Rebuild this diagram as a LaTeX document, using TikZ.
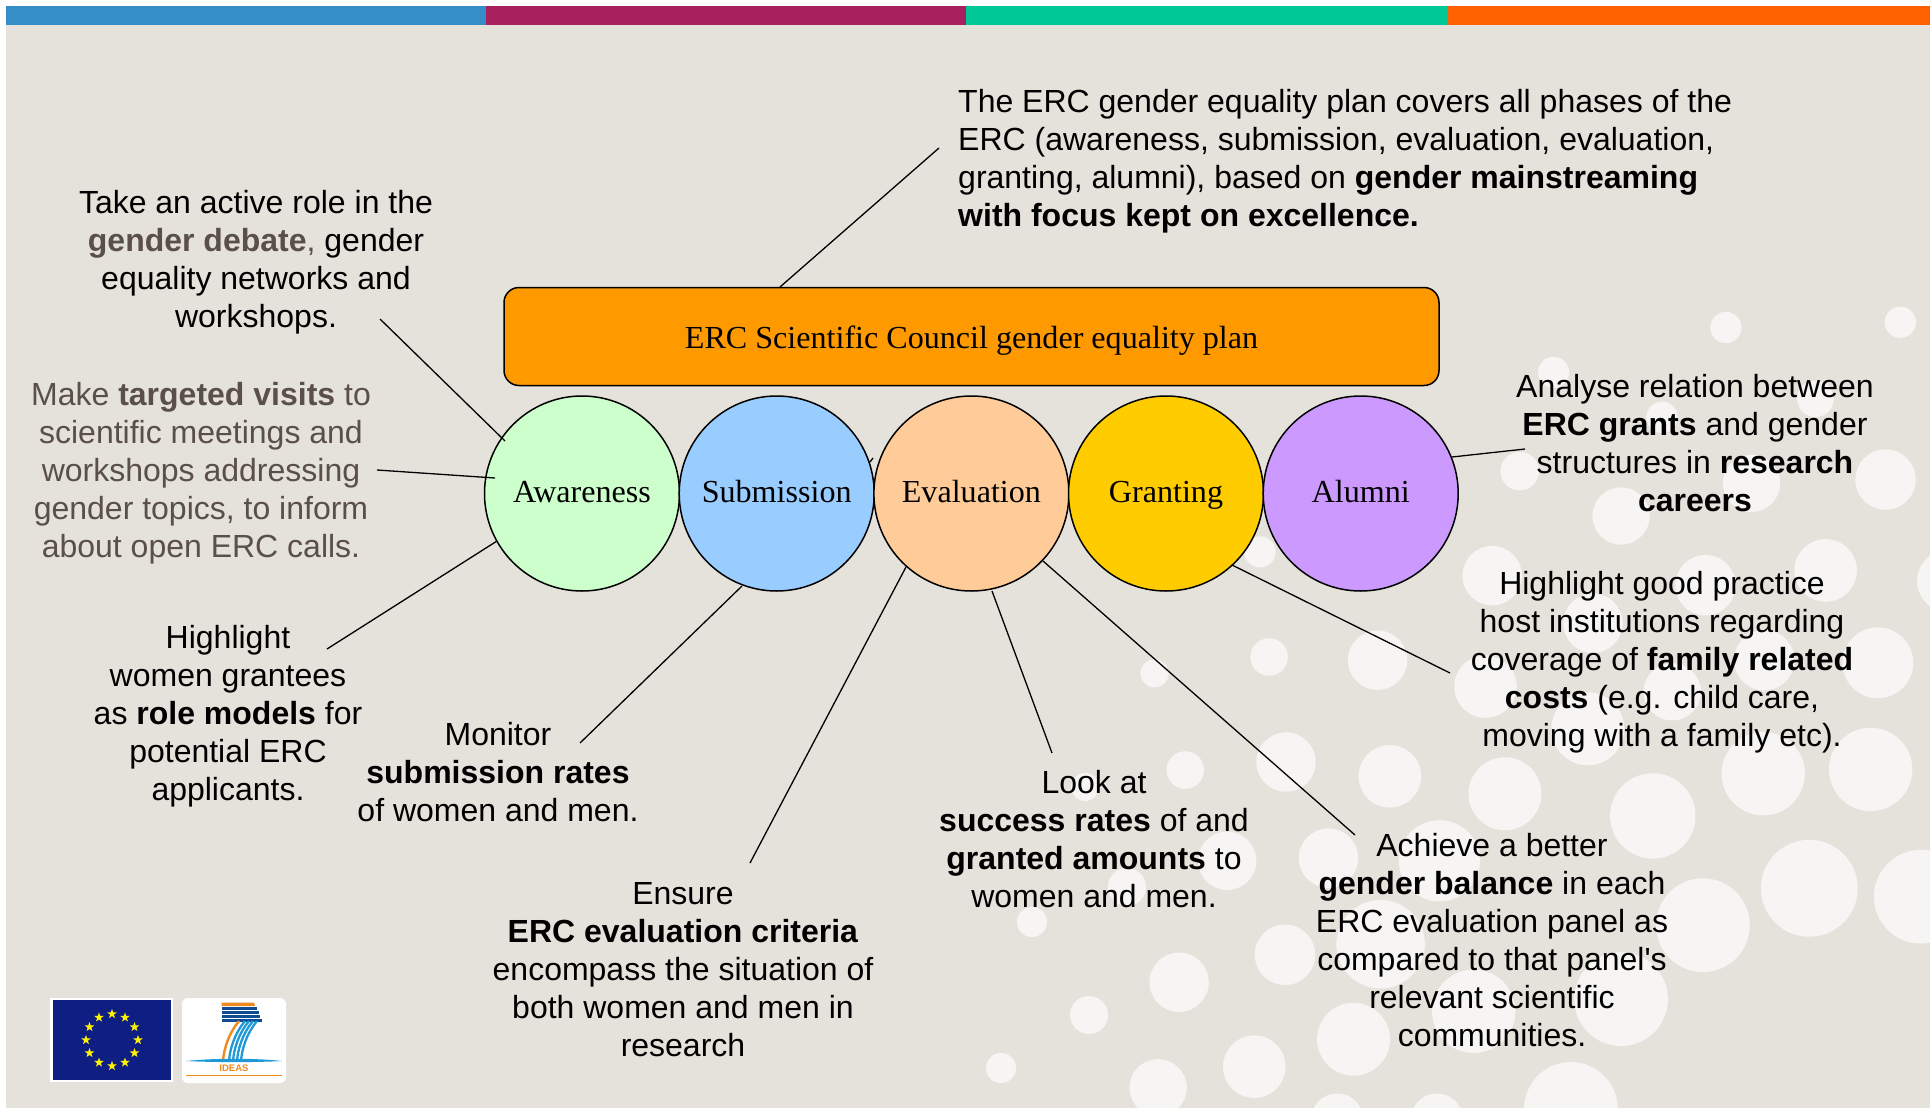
\documentclass[tikz,border=0pt]{standalone}
\usepackage{fontspec}
\setmainfont{Liberation Sans}
\newfontfamily\tnr{Liberation Serif}
\newfontfamily\plainsans{Liberation Sans}
\usetikzlibrary{shapes.geometric,calc}
\definecolor{bgc}{HTML}{E5E2DB}
\definecolor{bub}{HTML}{F7F5F4}
\definecolor{greytxt}{HTML}{5A5048}
\definecolor{barblue}{HTML}{368EC9}
\definecolor{barmag}{HTML}{A8205E}
\definecolor{bargreen}{HTML}{00C896}
\definecolor{barorange}{HTML}{FF6000}
\definecolor{boxorange}{HTML}{FF9900}
\definecolor{cgreen}{HTML}{CCFFCC}
\definecolor{cblue}{HTML}{99CCFF}
\definecolor{cpeach}{HTML}{FFCC99}
\definecolor{cyellow}{HTML}{FFCC00}
\definecolor{cpurple}{HTML}{CC99FF}
\definecolor{eublue}{HTML}{0F1E82}
\definecolor{fpblue}{HTML}{1F9AD6}
\definecolor{fpnavy}{HTML}{0F4C96}
\definecolor{fporange}{HTML}{F08A1E}
\tikzset{
  stage/.style={circle,draw=black,line width=1.5pt,minimum size=195pt,inner sep=0pt,text height=23pt,text depth=5.5pt,font=\tnr\fontsize{32.1}{38}\selectfont},
  lead/.style={draw=black,line width=1.3pt},
  note/.style={align=center,inner sep=0pt,font=\fontsize{32}{38}\selectfont,text=black},
}
\begin{document}
\begin{tikzpicture}[x=1pt,y=-1pt]
\useasboundingbox (0,0) rectangle (1930,1108);
\fill[bgc] (6,6) rectangle (1930,1108);
% bubbles
\begin{scope}
\clip (6,25) rectangle (1930,1108);
\foreach \x/\y/\r in {1165/90/30,1506/80/30,828/175/30,1040/260/30,1340/225/35,762/362/37,1477/378/58,1215/385/55,960/447/55,254/515/30,708/560/57,1360/550/60,1125/578/58,1600/570/60,905/650/57,1240/720/58,1462/725/68,272/714/36,484/720/57,48/745/27,695/770/60,1060/780/55,895/850/70,1448/927/80,1238/935/80,305/913/57,508/940/60,733/973/70,108/928/36,1022/1015/82,1328/1152/93,388/1095/57,190/1100/56,1546/1168/90,1120/1222/90,605/1100/78,490/1258/85,303/1278/58,96/1330/57,960/1362/90,672/1385/80,437/1438/70,243/1490/60,55/1530/55,862/1570/90,405/1590/50,600/1590/50}
  \fill[bub] ({1130+\x/1.955},{280+\y/1.894}) circle ({\r/1.92});
\foreach \x/\y/\r in {1032/922/15,1089/1015/19,1001/1068/15,1127/887/19,1085/787/14}
  \fill[bub] (\x,\y) circle (\r);
\end{scope}
% top bar
\fill[barblue] (6,6) rectangle (486,25);
\fill[barmag] (486,6) rectangle (966,25);
\fill[bargreen] (966,6) rectangle (1447,25);
\fill[barorange] (1447,6) rectangle (1930,25);
% main shapes
\node[draw=black,line width=1.5pt,fill=boxorange,rounded corners=15pt,minimum width=935pt,minimum height=98pt,inner sep=0pt,text height=26pt,text depth=2pt,font=\tnr\fontsize{32.1}{38}\selectfont] (plan) at (971.5,336.5) {ERC Scientific Council gender equality plan};
\node[stage,fill=cgreen] (aw) at (582,493.5) {Awareness};
\node[stage,fill=cblue] (su) at (776.7,493.5) {Submission};
\node[stage,fill=cpeach] (ev) at (971.4,493.5) {Evaluation};
\node[stage,fill=cyellow] (gr) at (1166,493.5) {Granting};
\node[stage,fill=cpurple] (al) at (1360.7,493.5) {Alumni};
% notes
\node[note,align=left,anchor=west] (t0) at (958,161.5) {The ERC gender equality plan covers all phases of the\\ERC (awareness, submission, evaluation, evaluation,\\granting, alumni), based on \textbf{gender mainstreaming}\\\textbf{with focus kept on excellence.}};
\node[note] (t1) at (256,262) {Take an active role in the\\\textcolor{greytxt}{\textbf{gender debate},} gender\\equality networks and\\workshops.};
\node[note,text=greytxt] (t2) at (201,473.5) {Make \textbf{targeted visits} to\\scientific meetings and\\workshops addressing\\gender topics, to inform\\about open ERC calls.};
\node[note] (t3) at (228,716) {Highlight\\women grantees\\as \textbf{role models} for\\potential ERC\\applicants.};
\node[note] (t4) at (498,772) {Monitor\\\textbf{submission rates}\\of women and men.};
\node[note] (t5) at (683,969.5) {Ensure\\\textbf{ERC evaluation criteria}\\encompass the situation of\\both women and men in\\research};
\node[note] (t6) at (1094,839) {Look at\\\textbf{success rates} of and\\\textbf{granted amounts} to\\women and men.};
\node[note] (t7) at (1492,940) {Achieve a better\\\textbf{gender balance} in each\\ERC evaluation panel as\\compared to that panel{\plainsans '}s\\relevant scientific\\communities.};
\node[note] (t8) at (1662,662.5) {Highlight good practice\\host institutions regarding\\coverage of \textbf{family related}\\\textbf{costs} (e.g. child care,\\moving with a family etc).};
\node[note] (t9) at (1695,443) {Analyse relation between\\\textbf{ERC grants} and gender\\structures in \textbf{research}\\\textbf{careers}};
% free ends
\coordinate (e0) at (939,148);
\coordinate (s0) at (780,287);
\coordinate (e1) at (380,319);
\coordinate (s1) at (505,441);
\coordinate (e2) at (377,470);
\coordinate (s2) at (495,478);
\coordinate (e3) at (327,649);
\coordinate (s3) at (497,541);
\coordinate (e4) at (580,743);
\coordinate (s4) at (742,586);
\coordinate (e5) at (750,863);
\coordinate (s5) at (906,567);
\coordinate (e6) at (1052,753);
\coordinate (s6) at (992,591);
\coordinate (e7) at (1355,835);
\coordinate (s7) at (1043,561);
\coordinate (e8) at (1450,673);
\coordinate (s8) at (1232,565);
\coordinate (e9) at (1525,449);
\coordinate (s9) at (1452,457);
\coordinate (k1) at (870,462);
\coordinate (k2) at (873,458);
\foreach \i in {0,...,9} \draw[lead] (s\i) -- (e\i);
\draw[lead] (k1) -- (k2);
% EU flag
\fill[white] (50,998) rectangle (173,1082);
\fill[eublue] (52.5,1000) rectangle (171,1080);
\foreach \a in {0,30,...,330}
  \node[star,star points=5,star point ratio=2.5,fill=yellow,inner sep=0pt,minimum size=10pt] (st\a) at ({112+26*cos(\a)},{1040+26*sin(\a)}) {};
% FP7 logo
\fill[white,rounded corners=6pt] (182,998) rectangle (286,1083);
\fill[fporange] (221.5,1002.5) -- (254,1002.5) -- (255,1006) -- (221.5,1006) -- cycle;
\foreach \yy/\xx in {1007/257,1011/259,1015/260,1019/262}
  \fill[fpnavy] (221.5,\yy) rectangle (\xx,{\yy+2.6});
\draw[fporange,line width=2.4pt] (239,1021) .. controls (229,1033) and (224,1048) .. (223,1061);
\foreach \d in {6,10,14,18}
  \draw[fpblue,line width=2.3pt] ({239+\d},1021) .. controls ({229+\d},1033) and ({224+\d},1048) .. ({223+\d},1061);
\fill[fpblue] (186,1061) .. controls (215,1058) and (255,1058) .. (282,1061) .. controls (255,1062.5) and (215,1062.5) .. cycle;
\node[inner sep=0pt,text=fporange,font=\bfseries\fontsize{9.5}{10}\selectfont] (ideas) at (234,1068.5) {IDEAS};
\fill[fporange] (186,1075) rectangle (282,1076);
\end{tikzpicture}
\end{document}
